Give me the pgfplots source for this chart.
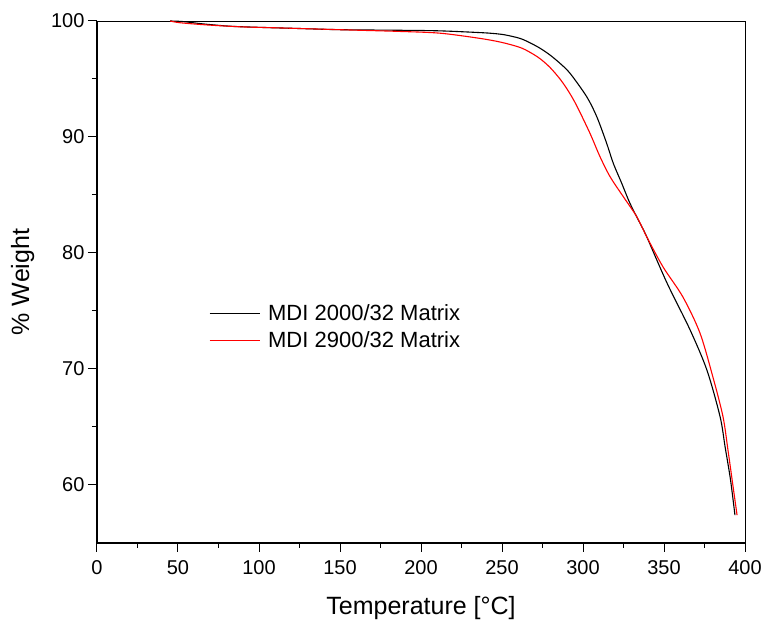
\documentclass[border=0pt]{standalone}
\usepackage{fontspec}
\setmainfont{Liberation Sans}
\usepackage{pgfplots}
\pgfplotsset{compat=1.18}
\usetikzlibrary{calc}

\begin{document}
\begin{tikzpicture}
\begin{axis}[
    scale only axis,
    width=648pt, height=522pt,
    xmin=0, xmax=400,
    ymin=55, ymax=100,
    xtick={0,50,...,400},
    ytick={60,70,80,90,100},
    minor tick num=1,
    tick align=outside,
    xtick pos=bottom, ytick pos=left,
    major tick length=9pt, minor tick length=5pt,
    every tick/.style={black, line width=1pt},
    axis line style={line width=0.9pt},
    /pgf/number format/assume math mode=true,
    ticklabel style={font=\fontsize{20}{24}\selectfont},
    xticklabel style={yshift=-5pt},
    xlabel={Temperature [°C]},
    ylabel={\% Weight},
    label style={font=\fontsize{25}{30}\selectfont},
    xlabel style={yshift=-15pt},
    ylabel style={yshift=10pt},
    legend style={at={(0.168,0.465)}, anchor=north west, draw=none, fill=none,
        font=\fontsize{22}{26}\selectfont, row sep=6pt},
    legend cell align=left,
    legend image code/.code={\draw[#1] (0pt,0pt) -- (50pt,0pt); \path (56pt,0pt);},
]
\addplot[black, line width=1.1pt, smooth] coordinates {
(45.1,100.0) (53.1,99.95) (65.4,99.75) (82.1,99.55) (100.6,99.45)
(125.3,99.35) (150.0,99.25) (187.0,99.2) (211.7,99.15) (236.4,99.0)
(245.0,98.92) (252.0,98.8) (261.1,98.5) (267.3,98.12) (273.5,97.65)
(279.6,97.07) (285.8,96.35) (292.0,95.49)
(302.3,93.47) (308.5,91.75) (314.6,89.46) (318.7,87.73) (323.9,86.01)
(329.0,84.28) (335.2,82.56) (339.3,81.41) (351.9,77.4) (366.0,73.4)
(376.5,69.9) (384.6,65.9) (387.7,63.3) (391.0,60.5) (393.8,57.4)
};
\addlegendentry{MDI 2000/32 Matrix}
\addplot[red, line width=1.1pt, smooth] coordinates {
(45.1,100.0) (51.2,99.85) (67.9,99.66) (88.3,99.5) (108.6,99.42)
(137.7,99.3) (162.3,99.2) (187.0,99.1) (211.7,98.95) (236.4,98.5)
(250.0,98.15) (261.1,97.72) (267.3,97.3) (273.5,96.75) (279.6,96.0)
(285.8,95.0) (291.0,93.95) (296.1,92.7) (304.3,90.32) (310.5,88.3)
(316.7,86.58) (324.9,84.85)
(333.2,83.13) (339.3,81.41) (349.4,78.8) (361.7,76.2) (372.2,73.1)
(380.2,69.3) (386.4,65.9) (389.5,63.0) (392.5,60.0) (395.1,57.4)
};
\addlegendentry{MDI 2900/32 Matrix}
\end{axis}
\draw[line width=1.8pt] (current axis.north west) -- (current axis.south west) -- (current axis.south east);
\path (current axis.south west) ++(-97pt,-78pt) rectangle ($(current axis.north east)+(21pt,21pt)$);
\end{tikzpicture}
\end{document}
